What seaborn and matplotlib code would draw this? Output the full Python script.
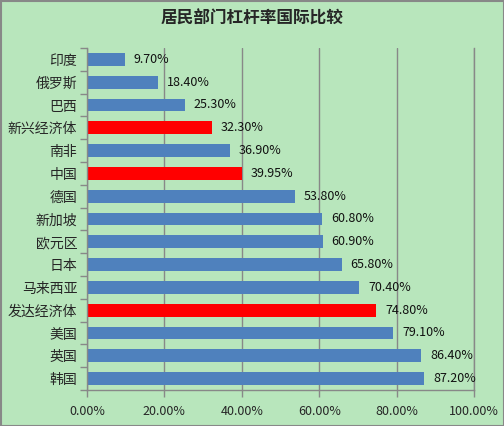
import matplotlib.pyplot as plt
import pandas as pd
import seaborn as sns

countries = ["印度", "俄罗斯", "巴西", "新兴经济体", "南非", "中国", "德国", "新加坡",
             "欧元区", "日本", "马来西亚", "发达经济体", "美国", "英国", "韩国"]
leverage = [9.70, 18.40, 25.30, 32.30, 36.90, 39.95, 53.80, 60.80,
            60.90, 65.80, 70.40, 74.80, 79.10, 86.40, 87.20]
highlight = ["新兴经济体", "中国", "发达经济体"]
x_ticks = [0, 20, 40, 60, 80, 100]

bg = "#B8E6BC"
sns.set_theme(style="white")
plt.rcParams["font.family"] = ["Noto Sans CJK SC", "DejaVu Sans"]

df = pd.DataFrame({"country": countries, "value": leverage})
df["group"] = ["hl" if c in highlight else "base" for c in countries]

fig = plt.figure(figsize=(5.04, 4.26), dpi=100, facecolor=bg)
ax = fig.add_axes([87 / 504, 36 / 426, 387 / 504, 342 / 426])
ax.set_facecolor(bg)

sns.barplot(data=df, x="value", y="country", hue="group",
            palette={"base": "#4F81BD", "hl": "#FF0000"},
            width=0.57, dodge=False, legend=False, ax=ax, saturation=1,
            linewidth=0)

for i, v in enumerate(leverage):
    ax.text(v + 2.3, i, f"{v:.2f}%", va="center", ha="left", fontsize=9,
            color="#111111")

ax.set_xlim(0, 100)
ax.set_ylim(len(countries) - 0.5, -0.5)
ax.set_xticks(x_ticks)
ax.set_xticklabels([f"{t:.2f}%" for t in x_ticks], fontsize=9)
ax.set_yticks([i - 0.5 for i in range(len(countries) + 1)], minor=False)
ax.set_yticklabels([])
ax.set_yticks(range(len(countries)), minor=True)
ax.set_yticklabels(countries, minor=True, fontsize=10)
ax.tick_params(axis="y", which="minor", left=False, length=0, pad=7)
ax.tick_params(axis="y", which="major", left=True, length=5, width=1,
               color="#888888", direction="out")
ax.tick_params(axis="x", bottom=True, length=5, width=1, color="#888888",
               direction="out", pad=6)
ax.set_xlabel("")
ax.set_ylabel("")
ax.xaxis.grid(True, color="#888888", linewidth=1)
ax.set_axisbelow(True)

ax.spines["top"].set_visible(False)
for side in ["left", "bottom", "right"]:
    ax.spines[side].set_color("#888888")
    ax.spines[side].set_linewidth(1)

fig.text(0.5, 1 - 19 / 426, "居民部门杠杆率国际比较", ha="center", va="center",
         fontsize=12, fontweight="bold")

border = plt.Rectangle((0.5 / 504, 0.5 / 426), 503 / 504, 425 / 426,
                       transform=fig.transFigure, fill=False,
                       edgecolor="#888888", linewidth=1.5)
fig.patches.append(border)

fig.savefig("out.png", dpi=100, facecolor=bg)
